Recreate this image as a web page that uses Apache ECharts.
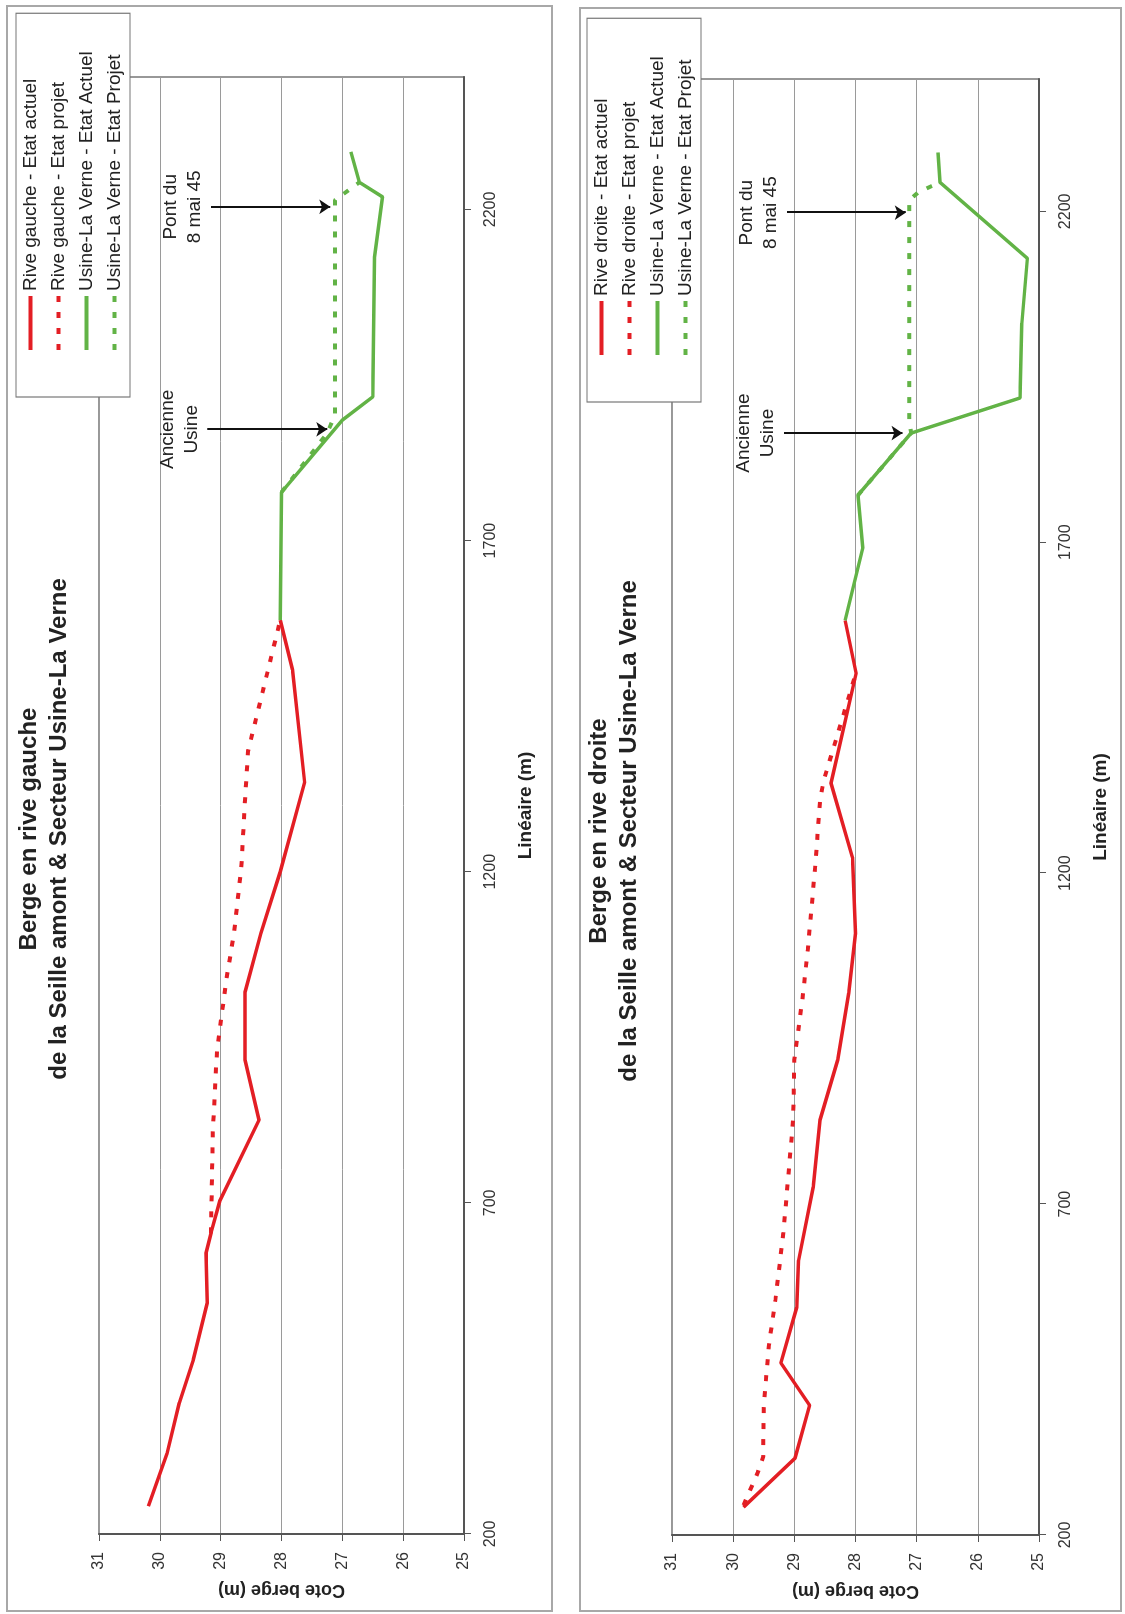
<!DOCTYPE html>
<html>
<head>
<meta charset="utf-8">
<script src="https://cdn.jsdelivr.net/npm/echarts@6/dist/echarts.min.js"></script>
<style>
html, body { margin: 0; padding: 0; overflow: hidden; background: #fff; width: 1125px; height: 1614px; }
.panel { position: absolute; transform-origin: 0 0; transform: rotate(-90deg); outline: 2px solid #a8a8a8; outline-offset: -2px; }
</style>
</head>
<body>
<div id="p1" class="panel" style="left:6px;top:1612px;width:1607px;height:547px"></div>
<div id="p2" class="panel" style="left:579px;top:1612px;width:1605px;height:543px"></div>
<script>
// axis ticks
var linTicks = [200, 700, 1200, 1700, 2200];

// rive gauche (panel 1)
var gaucheActuelX = [242, 322, 398, 463, 549, 624, 654, 704, 825, 916, 1018, 1107, 1200, 1335, 1505, 1580];
var gaucheActuelY = [30.19, 29.88, 29.68, 29.45, 29.22, 29.24, 29.16, 29.01, 28.37, 28.60, 28.60, 28.34, 28.02, 27.62, 27.82, 28.02];
var gaucheProjetX = [654, 805, 931, 1041, 1107, 1207, 1308, 1382, 1580];
var gaucheProjetY = [29.16, 29.13, 29.06, 28.90, 28.78, 28.66, 28.60, 28.55, 28.02];
var usineGActuelX = [1580, 1773, 1882, 1917, 2128, 2219, 2241, 2287];
var usineGActuelY = [28.02, 28.00, 27.00, 26.50, 26.47, 26.34, 26.72, 26.86];
var usineGProjetX = [1773, 1862, 1890, 2214, 2241];
var usineGProjetY = [28.00, 27.25, 27.12, 27.12, 26.72];

// rive droite (panel 2)
var droiteActuelX = [242, 316, 396, 460, 544, 615, 726, 827, 918, 1019, 1109, 1224, 1336, 1502, 1582];
var droiteActuelY = [29.83, 28.99, 28.75, 29.22, 28.96, 28.93, 28.69, 28.58, 28.29, 28.11, 28.00, 28.05, 28.40, 27.99, 28.17];
var droiteProjetX = [245, 294, 318, 393, 484, 555, 656, 827, 918, 1008, 1084, 1209, 1310, 1340, 1500];
var droiteProjetY = [29.83, 29.60, 29.51, 29.50, 29.42, 29.31, 29.18, 29.02, 29.00, 28.87, 28.78, 28.66, 28.58, 28.52, 28.00];
var usineDActuelX = [1582, 1692, 1771, 1865, 1918, 2031, 2129, 2244, 2289];
var usineDActuelY = [28.17, 27.88, 27.96, 27.09, 25.31, 25.28, 25.19, 26.62, 26.65];
var usineDProjetX = [1771, 1865, 1885, 2217, 2229, 2244];
var usineDProjetY = [27.96, 27.09, 27.12, 27.12, 26.97, 26.62];

// annotations : [lineaire, cote depart, cote fleche]
var annotLabels = ['Ancienne\nUsine', 'Pont du\n8 mai 45'];
var annotGauche = [[1868, 29.22, 27.25], [2204, 29.16, 27.20]];
var annotDroite = [[1865, 29.17, 27.23], [2198, 29.12, 27.18]];

var FONT = "'Liberation Sans', Arial, sans-serif";
var RED = '#e31e24', GREEN = '#62b346';

function pairs(xs, ys) {
  return xs.map(function (x, i) { return [x, ys[i]]; });
}

function makeChart(id, o) {
  var chart = echarts.init(document.getElementById(id));
  var dotted = [6, 10];
  var arrows = o.annot.map(function (a, i) {
    return [{ coord: [a[0], a[1]], name: annotLabels[i] }, { coord: [a[0], a[2]] }];
  });
  var option = {
    animation: false,
    textStyle: { fontFamily: FONT },
    grid: Object.assign({ show: true, borderColor: '#777', borderWidth: 1.5 }, o.grid),
    legend: {
      orient: 'vertical',
      left: o.legend[0], top: o.legend[1],
      backgroundColor: '#fff',
      borderColor: '#777', borderWidth: 1.2,
      padding: [5, 38, 6, 45],
      itemWidth: 54, itemHeight: 14, itemGap: 9,
      itemStyle: { opacity: 0 },
      lineStyle: { width: 4 },
      textStyle: { fontFamily: FONT, fontSize: 19, color: '#222', lineHeight: 19 },
      data: o.names
    },
    graphic: [
      { type: 'text', x: o.title[0], y: o.title[1],
        style: { text: o.titles[0], font: 'bold 24px ' + FONT, fill: '#222', align: 'center', verticalAlign: 'middle' } },
      { type: 'text', x: o.title[0], y: o.title[2],
        style: { text: o.titles[1], font: 'bold 24px ' + FONT, fill: '#222', align: 'center', verticalAlign: 'middle' } }
    ],
    xAxis: {
      type: 'value', min: 200, max: 2400,
      name: 'Linéaire (m)', nameLocation: 'middle', nameGap: 52,
      nameTextStyle: { fontFamily: FONT, fontSize: 19, fontWeight: 'bold', color: '#222' },
      axisLine: { show: true, lineStyle: { color: '#555', width: 2 } },
      axisTick: { show: true, length: 7, customValues: linTicks, lineStyle: { color: '#555' } },
      axisLabel: { customValues: linTicks, margin: 19, fontSize: 16, color: '#333',
                   formatter: function (v) { return String(v); } },
      splitLine: { show: false }
    },
    yAxis: {
      type: 'value', min: 25, max: 31, interval: 1,
      name: 'Cote berge (m)', nameLocation: 'middle', nameGap: o.yNameGap,
      nameTextStyle: { fontFamily: FONT, fontSize: 18, fontWeight: 'bold', color: '#222' },
      axisLine: { show: true, lineStyle: { color: '#555', width: 2 } },
      axisTick: { show: true, length: 7, lineStyle: { color: '#555' } },
      axisLabel: { margin: 18, fontSize: 16, color: '#333' },
      splitLine: { show: true, lineStyle: { color: '#9a9a9a', width: 1 } }
    },
    series: [
      { name: o.names[0], type: 'line', data: o.data[0], symbol: 'none', color: RED,
        lineStyle: { color: RED, width: 3.5 } },
      { name: o.names[1], type: 'line', data: o.data[1], symbol: 'none', color: RED,
        lineStyle: { color: RED, width: 4, type: dotted, cap: 'butt' } },
      { name: o.names[2], type: 'line', data: o.data[2], symbol: 'none', color: GREEN,
        lineStyle: { color: GREEN, width: 3.5 } },
      { name: o.names[3], type: 'line', data: o.data[3], symbol: 'none', color: GREEN,
        lineStyle: { color: GREEN, width: 4, type: dotted, cap: 'butt' },
        markLine: {
          silent: true, symbol: ['none', 'arrow'], symbolSize: 11,
          lineStyle: { color: '#111', width: 2, type: 'solid' },
          label: { show: true, position: 'start', distance: 4, formatter: function (p) { return p.name; },
                   fontFamily: FONT, fontSize: 19, lineHeight: 24, color: '#222' },
          data: arrows
        } }
    ]
  };
  chart.setOption(option);
  return chart;
}

makeChart('p1', {
  grid: { left: 78, right: 72, top: 93, bottom: 89 },
  legend: [1215, 10],
  title: [783, 23, 53],
  yNameGap: 45,
  titles: ['Berge en rive gauche', 'de la Seille amont & Secteur Usine-La Verne'],
  names: ['Rive gauche - Etat actuel', 'Rive gauche - Etat projet', 'Usine-La Verne - Etat Actuel', 'Usine-La Verne - Etat Projet'],
  data: [pairs(gaucheActuelX, gaucheActuelY), pairs(gaucheProjetX, gaucheProjetY),
         pairs(usineGActuelX, usineGActuelY), pairs(usineGProjetX, usineGProjetY)],
  annot: annotGauche
});

makeChart('p2', {
  grid: { left: 77, right: 72, top: 93, bottom: 83 },
  legend: [1210, 8],
  title: [781, 20, 50],
  yNameGap: 46,
  titles: ['Berge en rive droite', 'de la Seille amont & Secteur Usine-La Verne'],
  names: ['Rive droite - Etat actuel', 'Rive droite - Etat projet', 'Usine-La Verne - Etat Actuel', 'Usine-La Verne - Etat Projet'],
  data: [pairs(droiteActuelX, droiteActuelY), pairs(droiteProjetX, droiteProjetY),
         pairs(usineDActuelX, usineDActuelY), pairs(usineDProjetX, usineDProjetY)],
  annot: annotDroite
});
</script>
</body>
</html>
